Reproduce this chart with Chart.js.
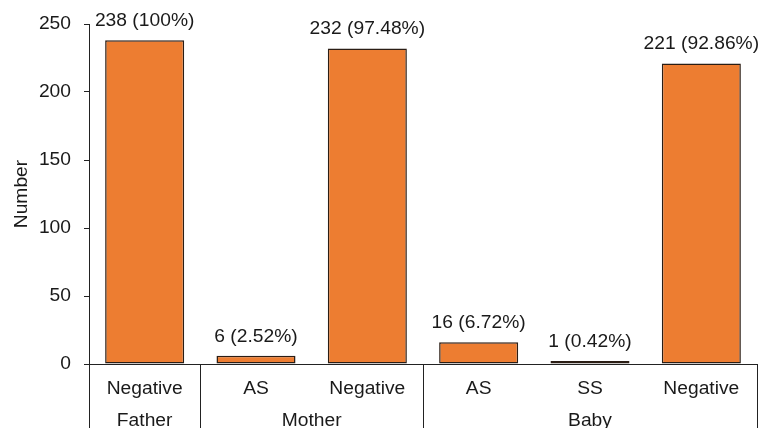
<!DOCTYPE html>
<html>
<head>
<meta charset="utf-8">
<script src="https://cdn.jsdelivr.net/npm/chart.js@4"></script>
<style>
  html, body { margin: 0; padding: 0; background: #fff; }
  #wrap { width: 766px; height: 428px; }
</style>
</head>
<body>
<div id="wrap"><canvas id="c" width="766" height="428"></canvas></div>
<script>
// Haemoglobin genotype counts by family member
const categories = ['Negative', 'AS', 'Negative', 'AS', 'SS', 'Negative'];
const counts = [238, 6, 232, 16, 1, 221];
const percents = ['100%', '2.52%', '97.48%', '6.72%', '0.42%', '92.86%'];
const groups = ['Father', 'Mother', 'Baby'];
const groupSpans = [1, 2, 3]; // number of categories in each group
const yTicks = [0, 50, 100, 150, 200, 250];
const yTitle = 'Number';

const FONT = '17.5px "Liberation Sans", Arial, sans-serif';
const TEXT = '#1a1a1a';
const LINE = '#222';
const STRETCH = 1.1; // slightly wide lettering

// Draw text widened along its writing direction
function wideText(ctx, text, x, y, align, baseline, rotate) {
  ctx.save();
  ctx.translate(x, y);
  if (rotate) ctx.rotate(rotate);
  ctx.scale(STRETCH, 1);
  ctx.font = FONT;
  ctx.fillStyle = TEXT;
  ctx.textAlign = align;
  ctx.textBaseline = baseline;
  ctx.fillText(text, 0, 0);
  ctx.restore();
}

// Axis labels, group boxes and value labels
const annotate = {
  id: 'annotate',
  afterDraw(chart) {
    const ctx = chart.ctx;
    const area = chart.chartArea;
    const xs = chart.scales.x;
    const ys = chart.scales.y;
    const meta = chart.getDatasetMeta(0);

    // y tick labels
    yTicks.forEach(v => wideText(ctx, String(v), 71, ys.getPixelForValue(v), 'right', 'middle'));

    // y title
    wideText(ctx, yTitle, 27, (area.top + area.bottom) / 2, 'center', 'alphabetic', -Math.PI / 2);

    // category labels
    categories.forEach((c, i) => wideText(ctx, c, xs.getPixelForValue(i), 394, 'center', 'alphabetic'));

    // group boxes
    const step = (area.right - area.left) / categories.length;
    const bounds = [0];
    let idx = 0;
    groupSpans.forEach(s => { idx += s; bounds.push(idx); });
    ctx.save();
    ctx.strokeStyle = LINE;
    ctx.lineWidth = 1;
    bounds.forEach(b => {
      const px = Math.round(area.left + b * step) + 0.5;
      ctx.beginPath();
      ctx.moveTo(px, area.bottom);
      ctx.lineTo(px, chart.height);
      ctx.stroke();
    });
    ctx.restore();
    groups.forEach((g, i) => {
      const cx = area.left + (bounds[i] + bounds[i + 1]) / 2 * step;
      wideText(ctx, g, cx, 426, 'center', 'alphabetic');
    });

    // value labels above bars
    meta.data.forEach((bar, i) => {
      wideText(ctx, counts[i] + ' (' + percents[i] + ')', bar.x, bar.y - 14, 'center', 'alphabetic');
    });
  }
};

new Chart(document.getElementById('c'), {
  type: 'bar',
  data: {
    labels: categories,
    datasets: [{
      data: counts,
      backgroundColor: '#ED7D31',
      borderColor: '#2b1d14',
      borderWidth: 1.5,
      borderSkipped: false,
      minBarLength: 3,
      barPercentage: 0.71,
      categoryPercentage: 1.0
    }]
  },
  options: {
    responsive: false,
    animation: false,
    layout: { padding: { top: 24, right: 9, left: 0, bottom: 0 } },
    plugins: { legend: { display: false }, tooltip: { enabled: false } },
    scales: {
      x: {
        grid: { display: false },
        border: { display: true, color: LINE, width: 1 },
        ticks: { display: false },
        afterFit(scale) { scale.height = 64; }
      },
      y: {
        min: 0,
        max: 250,
        afterBuildTicks(scale) { scale.ticks = yTicks.map(v => ({ value: v })); },
        grid: { drawOnChartArea: false, drawTicks: true, tickLength: 5, color: LINE },
        border: { display: true, color: LINE, width: 1 },
        ticks: { display: false },
        afterFit(scale) { scale.width = 89; }
      }
    }
  },
  plugins: [annotate]
});
</script>
</body>
</html>
